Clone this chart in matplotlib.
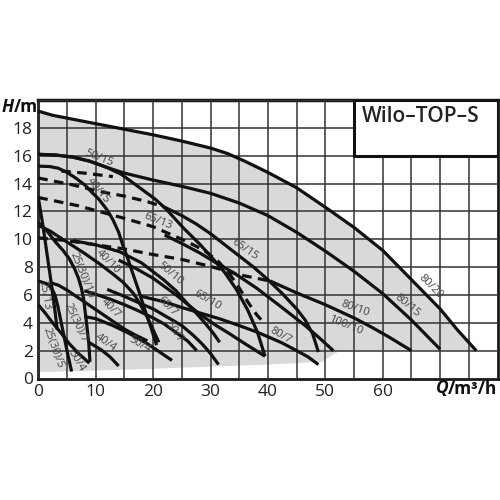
import matplotlib
matplotlib.use('Agg')
import matplotlib.pyplot as plt
from matplotlib.patches import Rectangle, Polygon

plt.rcParams['font.family'] = ['Open Sans', 'DejaVu Sans']

# pump curves, Q in m3/h, H in m
q_80_20 = [0, 2.5, 5, 10, 15, 20, 25, 30, 33, 36, 40, 45, 50, 55, 60, 65, 70, 73, 76.3]
h_80_20 = [19.2, 18.9, 18.7, 18.3, 17.9, 17.5, 17.05, 16.55, 16.15, 15.6, 14.8, 13.7, 12.3, 10.85, 9.2, 7.1, 5.0, 3.5, 2.0]

q_80_15 = [0, 3, 6, 9, 12, 15, 20, 25, 30, 35, 40, 45, 50, 55, 60, 65, 70]
h_80_15 = [16.1, 16.05, 15.9, 15.6, 15.15, 14.75, 14.25, 13.8, 13.3, 12.6, 11.7, 10.5, 9.15, 7.7, 6.1, 4.2, 2.1]

q_50_15 = [0, 3, 6, 9, 12, 14.5, 17, 20.3, 22.2, 25.3, 28, 30, 32.5, 34.5, 36.5, 38.2, 39.5]
h_50_15 = [16.1, 16.05, 15.9, 15.6, 15.15, 14.65, 13.9, 12.9, 12.2, 10.8, 9.7, 8.8, 7.6, 6.4, 4.9, 3.3, 1.6]

q_40_15 = [0, 2, 3.5, 5, 6.5, 8.1, 9.5, 10.5, 12, 13, 14, 14.7, 15.6, 16.5, 17.5, 18.5, 19.6, 20.6]
h_40_15 = [15.25, 15.22, 15.1, 14.8, 14.4, 13.9, 13.3, 12.9, 12.1, 11.4, 10.5, 9.6, 8.6, 7.5, 6.3, 5.0, 3.7, 2.4]

q_65_15_dash = [0, 6, 11, 15, 19, 22]
h_65_15_dash = [14.4, 13.9, 13.4, 13.1, 12.7, 12.3]
q_65_15 = [22, 25, 27.5, 30, 32.5, 35, 37.5, 40, 42.5, 45, 46.5, 47.8, 48.8]
h_65_15 = [12.3, 11.7, 11.1, 10.4, 9.6, 8.8, 8.0, 7.1, 6.1, 5.0, 4.2, 3.2, 1.9]

q_top_dash = [4, 8, 13]
h_top_dash = [14.9, 14.75, 14.5]

q_65_13 = [0, 7, 15, 20, 25, 27.5, 29.4, 31.5, 33.5, 35, 36.5, 38, 39.3]
h_65_13 = [13.0, 12.4, 11.5, 10.9, 10.0, 9.5, 9.05, 8.35, 7.4, 6.5, 5.5, 4.6, 4.0]

q_80_10_dash = [0, 5, 10, 15, 20, 25, 30, 35, 40.4]
h_80_10_dash = [10.1, 9.9, 9.6, 9.3, 8.9, 8.55, 8.05, 7.45, 7.0]
q_80_10 = [40.4, 45, 50, 55, 58, 61, 63, 65]
h_80_10 = [7.0, 6.15, 5.3, 4.35, 3.7, 3.0, 2.5, 2.0]

q_100_10 = [22, 25, 28.2, 31, 34, 38, 41.5, 44, 46.5, 49, 51.4]
h_100_10 = [10.3, 9.7, 9.0, 8.3, 7.6, 6.5, 5.4, 4.6, 3.8, 2.9, 2.0]

q_65_10 = [14, 17, 20, 24, 28.2, 31, 33, 36, 39.5]
h_65_10 = [8.5, 7.9, 7.2, 6.0, 4.6, 3.8, 3.3, 2.5, 1.6]

q_50_10 = [6, 10, 14.2, 18, 21.8, 24, 25.9, 27.5, 29, 30.4, 31.6]
h_50_10 = [9.9, 9.6, 9.1, 8.3, 7.1, 6.3, 5.4, 4.7, 4.0, 3.3, 2.6]

q_40_10 = [0, 2, 5, 8, 10.8, 13, 14.8, 16.6, 17.8, 19, 20, 21]
h_40_10 = [11.0, 10.6, 9.8, 9.0, 8.2, 7.5, 6.9, 6.1, 5.3, 4.4, 3.5, 2.6]

q_80_7 = [18, 22, 25, 28.2, 31.5, 35, 38, 40, 42.5, 45, 47, 48.8]
h_80_7 = [5.9, 5.5, 5.1, 4.7, 4.3, 3.8, 3.35, 3.0, 2.55, 2.0, 1.55, 1.0]

q_65_7 = [12, 15, 18, 20, 22.5, 25, 27, 28.5, 30, 31.4]
h_65_7 = [6.4, 5.9, 5.35, 5.0, 4.4, 3.8, 3.1, 2.5, 1.8, 1.0]

q_50_7 = [8, 10, 12.5, 15, 17.5, 20, 22, 24, 26, 27.6]
h_50_7 = [6.3, 6.05, 5.7, 5.3, 4.85, 4.35, 3.9, 3.3, 2.7, 2.0]

q_40_7 = [2.0, 3.5, 5, 7.5, 10, 12.5, 15, 17, 19]
h_40_7 = [6.9, 6.7, 6.35, 5.65, 4.95, 4.25, 3.55, 3.1, 2.7]

q_50_4 = [8, 10, 13, 16, 19, 21.5, 23.3]
h_50_4 = [4.45, 4.3, 3.8, 3.2, 2.5, 1.8, 1.3]

q_40_4 = [8.8, 11, 12.5, 14]
h_40_4 = [2.6, 2.05, 1.55, 0.9]

q_25_13 = [0, 0.8, 1.5, 2.2, 2.8, 3.3]
h_25_13 = [13.0, 11.0, 9.0, 7.0, 5.2, 3.5]

q_25_10 = [0, 1.5, 3, 4.3, 5.4, 6.3, 7, 7.5, 7.9, 8.4, 8.8, 9.0]
h_25_10 = [11.2, 10.6, 9.8, 9.2, 8.6, 7.9, 7.2, 6.5, 5.7, 4.0, 2.5, 1.2]

q_25_7 = [0, 1.5, 2.3, 2.9, 3.4, 4.2, 5.0, 5.8]
h_25_7 = [7.0, 6.8, 6.5, 6.0, 5.2, 3.6, 2.0, 0.5]

q_25_5 = [0, 1.2, 2.5, 4, 5.4, 7, 8.9]
h_25_5 = [5.3, 4.7, 4.0, 3.25, 2.5, 1.8, 1.1]

# lower edge of the grey field
bottom_q = [76.3, 52.5, 49.5, 40, 20, 0]
bottom_h = [2.0, 2.0, 1.2, 1.0, 0.7, 0.45]

# curve labels
label_text = ['50/15', '40/15', '65/13', '65/15', '40/10', '25(30)/10', '50/10', '65/10',
              '25/13', '25(30)/7', '40/7', '65/7', '25(30)/5', '30/4', '40/4', '50/4',
              '50/7', '80/7', '80/10', '100/10', '80/15', '80/20']
label_q = [10.5, 10.4, 20.9, 36.0, 12.2, 7.6, 23.0, 29.4,
           1.1, 6.5, 12.6, 22.5, 2.6, 6.7, 11.8, 17.6,
           23.7, 42.3, 55.3, 53.5, 64.3, 68.3]
label_h = [15.8, 13.5, 11.3, 9.3, 8.4, 7.4, 7.5, 5.6,
           6.0, 4.0, 5.0, 5.2, 2.2, 1.3, 2.6, 2.4,
           3.3, 3.1, 5.0, 3.8, 5.2, 6.6]
label_rot = [-22, -50, -22, -35, -45, -68, -40, -30,
             -80, -65, -45, -45, -70, -60, -35, -30,
             -55, -30, -20, -22, -40, -45]

solid = [(q_80_20, h_80_20), (q_80_15, h_80_15), (q_50_15, h_50_15), (q_40_15, h_40_15),
         (q_65_15, h_65_15), (q_80_10, h_80_10), (q_100_10, h_100_10), (q_65_10, h_65_10),
         (q_50_10, h_50_10), (q_40_10, h_40_10), (q_80_7, h_80_7), (q_65_7, h_65_7),
         (q_50_7, h_50_7), (q_40_7, h_40_7), (q_50_4, h_50_4), (q_40_4, h_40_4),
         (q_25_13, h_25_13), (q_25_10, h_25_10), (q_25_7, h_25_7), (q_25_5, h_25_5)]
dashed = [(q_65_15_dash, h_65_15_dash), (q_top_dash, h_top_dash), (q_65_13, h_65_13),
          (q_80_10_dash, h_80_10_dash)]

fig = plt.figure(figsize=(5, 5), dpi=100)
ax = fig.add_axes([0.0766, 0.243, 0.9184, 0.557])
ax.set_xlim(0, 80)
ax.set_ylim(0, 20)

# grey field
pts = list(zip(q_80_20, h_80_20)) + list(zip(bottom_q, bottom_h))
ax.add_patch(Polygon(pts, closed=True, facecolor='#d9d9d9', edgecolor='none', zorder=0))

ax.set_xticks(range(0, 81, 5))
ax.set_xticklabels([str(v) if v <= 60 and v % 10 == 0 else '' for v in range(0, 81, 5)])
ax.set_yticks(range(0, 21, 2))
ax.set_yticklabels([str(v) if v < 20 else '' for v in range(0, 21, 2)])
ax.tick_params(length=0, labelsize=12.5, colors='#222222', pad=4)
ax.grid(True, color='#333333', linewidth=1.1, zorder=1)
ax.set_axisbelow(False)
for s in ax.spines.values():
    s.set_linewidth(2)
    s.set_color('#1a1a1a')
ax.spines['top'].set_linewidth(2.5)

# title box
ax.add_patch(Rectangle((55, 16), 25, 4, facecolor='white', edgecolor='#111111',
                       linewidth=2.2, zorder=3))
ax.text(56.4, 18.8, 'Wilo–TOP–S', fontsize=15, fontweight='semibold', color='#222222',
        va='center', ha='left', zorder=4)

for q, h in solid:
    ax.plot(q, h, color='#111111', linewidth=2.3, solid_capstyle='butt',
            solid_joinstyle='round', zorder=5)
for q, h in dashed:
    ax.plot(q, h, color='#111111', linewidth=2.3, linestyle=(0, (3, 2)),
            dash_capstyle='butt', zorder=5)

for t, q, h, r in zip(label_text, label_q, label_h, label_rot):
    ax.text(q, h, t, fontsize=8, color='#444444', rotation=r, rotation_mode='anchor',
            ha='center', va='center', zorder=6)

# axis titles in place of the last tick labels
fig.canvas.draw()
renderer = fig.canvas.get_renderer()
t1 = fig.text(0.004, 0.777, 'H', fontsize=12.5, fontweight='bold', fontstyle='italic',
              color='#111111', va='baseline')
w = t1.get_window_extent(renderer).width / fig.bbox.width
fig.text(0.004 + w, 0.777, '/m', fontsize=12.5, fontweight='bold', color='#111111', va='baseline')

t2 = fig.text(0.995, 0.213, '/m³/h', fontsize=12.5, fontweight='bold', color='#111111',
              ha='right', va='baseline')
w2 = t2.get_window_extent(renderer).width / fig.bbox.width
fig.text(0.995 - w2, 0.213, 'Q', fontsize=12.5, fontweight='bold', fontstyle='italic',
         color='#111111', ha='right', va='baseline')

fig.savefig('out.png', dpi=100)
